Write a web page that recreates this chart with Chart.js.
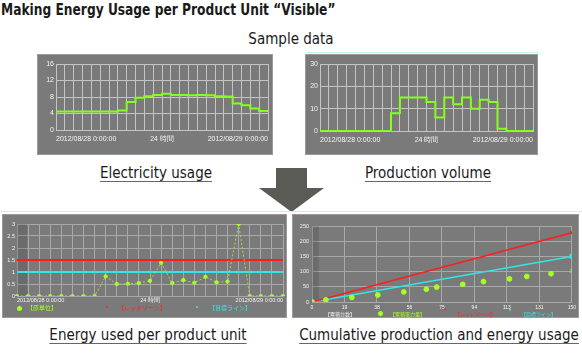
<!DOCTYPE html>
<html>
<head>
<meta charset="utf-8">
<script src="https://cdn.jsdelivr.net/npm/chart.js@4.4.0/dist/chart.umd.min.js"></script>
<style>
  body { margin: 0; width: 582px; height: 359px; background: #fff; position: relative; overflow: hidden;
         font-family: "DejaVu Sans Condensed", "DejaVu Sans", sans-serif; color: #1a1a1a; }
  .abs { position: absolute; white-space: nowrap; }
  .title { left: 1px; top: 0px; font-size: 16px; font-weight: bold; transform: scaleX(0.85); transform-origin: left top; }
  .sub { left: 291px; top: 30px; font-size: 15px; transform: translateX(-50%); }
  .cap { font-size: 15px; transform: translateX(-50%); text-decoration: underline; text-decoration-color: #666;
         text-underline-offset: 3px; }
  .panel { position: absolute; background: #7a7a7a; box-shadow: inset 0 0 0 1px #9a9a9a; }
  .panel canvas { position: absolute; left: 0; top: 0; }
  .mint { position: absolute; height: 1px; background: #c4f2df; }
  .lg { position: absolute; white-space: nowrap; font-family: "Noto Sans CJK JP", sans-serif; line-height: 1; }
  .dot { position: absolute; border-radius: 50%; }
</style>
</head>
<body>
<div class="abs title">Making Energy Usage per Product Unit “Visible”</div>
<div class="abs sub">Sample data</div>

<div class="mint" style="left:306px; top:52px; width:232px;"></div>
<div class="panel" style="left:37px; top:54px; width:236px; height:101px;"><canvas id="elec" width="236" height="101"></canvas></div>
<div class="panel" style="left:305px; top:54px; width:233px; height:101px;"><canvas id="prod" width="233" height="101"></canvas></div>

<div class="abs cap" style="left:156px; top:164px;">Electricity usage</div>
<div class="abs cap" style="left:428px; top:164px;">Production volume</div>

<svg class="abs" style="left:258px; top:168px;" width="68" height="45">
  <polygon points="18,0 49,0 49,20 66,20 33.5,44 1,20 18,20" fill="#5b5b56"/>
</svg>

<div class="mint" style="left:0; top:211px; width:582px;"></div>
<div class="panel" style="left:2px; top:214px; width:285px; height:104px;"><canvas id="unit" width="285" height="104"></canvas></div>
<div class="panel" style="left:292px; top:214px; width:287px; height:104px;"><canvas id="cum" width="287" height="104"></canvas></div>

<!-- legends of the two lower charts -->
<div class="dot" style="left:17px; top:306px; width:5px; height:5px; background:#a4ff24;"></div>
<div class="lg" style="left:27px; top:305px; font-size:6px; color:#a4ff24;">【原単位】</div>
<div class="dot" style="left:106px; top:306px; width:2px; height:2px; background:#ff2020;"></div>
<div class="lg" style="left:118px; top:305px; font-size:6px; color:#ff2020;">【レッドゾーン】</div>
<div class="dot" style="left:196px; top:306px; width:2px; height:2px; background:#33e6e6;"></div>
<div class="lg" style="left:209px; top:305px; font-size:6px; color:#33e6e6;">【目標ライン】</div>

<div class="lg" style="left:325px; top:311px; font-size:5px; color:#f0f0f0;">【累積台数】</div>
<div class="dot" style="left:378px; top:311px; width:5px; height:5px; background:#a4ff24;"></div>
<div class="lg" style="left:390px; top:311px; font-size:5px; color:#a4ff24;">【累積電力量】</div>
<div class="dot" style="left:444px; top:308px; width:2px; height:2px; background:#ff2020;"></div>
<div class="lg" style="left:455px; top:311px; font-size:5px; color:#ff2020;">【レッドゾーン】</div>
<div class="dot" style="left:509px; top:309px; width:2px; height:2px; background:#33e6e6;"></div>
<div class="lg" style="left:521px; top:311px; font-size:5px; color:#33e6e6;">【目標ライン】</div>

<div class="abs cap" style="left:148px; top:326px;">Energy used per product unit</div>
<div class="abs cap" style="left:439px; top:326px;">Cumulative production and energy usage</div>

<script>
// hourly slots over one day
const hourLabels = ['0','1','2','3','4','5','6','7','8','9','10','11','12',
                    '13','14','15','16','17','18','19','20','21','22','23','24'];
const timeTickIdx = [0, 12, 24];
const timeTickText = ['2012/08/28 0:00:00', '24 時間', '2012/08/29 0:00:00'];

// electricity usage per hour (last value repeats to close the final step)
const elecUsage = [4.5, 4.5, 4.5, 4.5, 4.5, 4.5, 4.5, 4.7, 6.8, 7.8, 8.2, 8.5, 8.8,
                   8.5, 8.5, 8.4, 8.5, 8.4, 8.2, 8.1, 6.4, 6.0, 5.2, 4.6, 4.6];
const elecYTicks = [0, 4, 6, 8, 10, 12, 16];

// production volume per hour
const prodVolume = [0, 0, 0, 0, 0, 0, 0, 0, 8, 15, 15, 15, 13,
                    6, 15, 12, 15, 10, 14, 13, 1, 0, 0, 0, 0];
const prodYTicks = [0, 10, 15, 20, 30];

// energy used per product unit
const energyPerUnit = [0, 0, 0, 0, 0, 0, 0, 0, 0.82, 0.5, 0.51, 0.54, 0.63,
                       1.38, 0.54, 0.66, 0.55, 0.8, 0.57, 0.6, 3.0, 0, 0, 0, 0];
const redZoneUnit = 1.5;
const targetUnit = 1.0;

// cumulative production vs cumulative energy
const cumUnits  = [0, 8, 23, 38, 53, 66, 72, 87, 99, 114, 124, 138, 150];
const cumEnergy = [0, 7, 15, 23, 33, 42, 49, 58, 67, 76, 84, 93, 102];
const lineX = [0, 150];
const redZoneCum = [0, 228];
const targetCum = [0, 150];
const cumTickText = ['0', '19', '38', '56', '75', '94', '113', '131', '150'];

Chart.defaults.font.family = '"Liberation Sans", Arial, sans-serif';
Chart.defaults.color = '#f4f4f4';
Chart.defaults.animation = false;
Chart.defaults.plugins.legend.display = false;
Chart.defaults.plugins.tooltip.enabled = false;

const GREEN = '#86ff1e';
const RED = '#ff1c1c';
const CYAN = '#33e6e6';

// darker strip at the start of the plot area
const shadeStart = {
  id: 'shadeStart',
  beforeDatasetsDraw(chart, args, opts) {
    if (opts.to == null) return;
    const {ctx, chartArea} = chart;
    const x1 = chart.scales.x.getPixelForValue(opts.to);
    ctx.save();
    ctx.fillStyle = 'rgba(0,0,0,0.12)';
    ctx.fillRect(chartArea.left, chartArea.top, x1 - chartArea.left, chartArea.bottom - chartArea.top);
    ctx.restore();
  }
};

function timeAxis(size, pad, height, grid) {
  return {
    grid: { color: grid, drawTicks: false },
    border: { color: grid },
    ticks: {
      autoSkip: false, maxRotation: 0, align: 'inner', padding: pad, font: { size },
      callback: (v, i) => {
        const k = timeTickIdx.indexOf(i);
        return k < 0 ? '' : timeTickText[k];
      }
    },
    afterFit: s => { s.height = height; }
  };
}

function valueAxis(max, step, shown, width, size, grid) {
  return {
    min: 0, max,
    grid: { color: grid, drawTicks: false },
    border: { color: grid },
    ticks: { stepSize: step, padding: 2, font: { size },
             callback: v => (shown.includes(v) ? String(v) : '') },
    afterFit: s => { s.width = width; }
  };
}

new Chart(document.getElementById('elec'), {
  type: 'line',
  data: {
    labels: hourLabels,
    datasets: [{ data: elecUsage, stepped: true, borderColor: GREEN, borderWidth: 2, pointRadius: 0 }]
  },
  options: {
    responsive: false,
    layout: { padding: { top: 10, right: 3, left: 0, bottom: 0 } },
    scales: {
      x: timeAxis(7, 5, 25, '#c4c4c4'),
      y: valueAxis(16, 2, elecYTicks, 19, 7, '#c4c4c4')
    }
  }
});

new Chart(document.getElementById('prod'), {
  type: 'line',
  data: {
    labels: hourLabels,
    datasets: [{ data: prodVolume, stepped: true, borderColor: GREEN, borderWidth: 2, pointRadius: 0 }]
  },
  options: {
    responsive: false,
    layout: { padding: { top: 10, right: 3, left: 0, bottom: 0 } },
    scales: {
      x: timeAxis(7, 5, 24, '#c4c4c4'),
      y: valueAxis(30, 5, prodYTicks, 15, 7, '#c4c4c4')
    }
  }
});

new Chart(document.getElementById('unit'), {
  type: 'line',
  data: {
    labels: hourLabels,
    datasets: [
      { data: energyPerUnit, borderColor: '#a8d84a', borderWidth: 1, borderDash: [2, 2],
        pointRadius: 2.1, pointBackgroundColor: '#a4ff24', pointBorderWidth: 0 },
      { data: [{ x: hourLabels[0], y: redZoneUnit }, { x: hourLabels[24], y: redZoneUnit }],
        borderColor: RED, borderWidth: 2, pointRadius: 0 },
      { data: [{ x: hourLabels[0], y: targetUnit }, { x: hourLabels[24], y: targetUnit }],
        borderColor: CYAN, borderWidth: 2, pointRadius: 0 }
    ]
  },
  options: {
    responsive: false,
    layout: { padding: { top: 10, right: 1, left: 0, bottom: 0 } },
    plugins: { shadeStart: { to: 0.9 } },
    scales: {
      x: timeAxis(5.5, 1, 22, '#a8a8a8'),
      y: valueAxis(3, 0.5, [0, 0.5, 1, 1.5, 2, 2.5, 3], 15, 5.5, '#a8a8a8')
    }
  },
  plugins: [shadeStart]
});

new Chart(document.getElementById('cum'), {
  type: 'line',
  data: {
    datasets: [
      { data: cumUnits.map((x, i) => ({ x, y: cumEnergy[i] })), showLine: false,
        pointRadius: 2.4, pointBackgroundColor: '#a4ff24', pointBorderColor: '#a4ff24', pointBorderWidth: 1,
        pointStyle: cumUnits.map((x, i) => (i === cumUnits.length - 1 ? 'crossRot' : 'circle')) },
      { data: lineX.map((x, i) => ({ x, y: redZoneCum[i] })), borderColor: RED, borderWidth: 1.5,
        pointRadius: 2.2, pointStyle: 'crossRot', pointBorderColor: RED },
      { data: lineX.map((x, i) => ({ x, y: targetCum[i] })), borderColor: CYAN, borderWidth: 1.5,
        pointRadius: 2.2, pointStyle: 'rect', pointBackgroundColor: CYAN, pointBorderColor: CYAN }
    ]
  },
  options: {
    responsive: false,
    layout: { padding: { top: 12, right: 6, left: 0, bottom: 0 } },
    plugins: { shadeStart: { to: 4 } },
    scales: {
      x: {
        type: 'linear', min: 0, max: 150,
        grid: { color: '#a8a8a8', drawTicks: false },
        border: { color: '#a8a8a8' },
        afterBuildTicks: s => {
          s.ticks = cumTickText.map((t, i) => ({ value: i * 150 / (cumTickText.length - 1) }));
        },
        ticks: { autoSkip: false, maxRotation: 0, padding: 3, font: { size: 5 },
                 callback: (v, i) => cumTickText[i] },
        afterFit: s => { s.height = 16; }
      },
      y: {
        min: 0, max: 250,
        grid: { color: '#a8a8a8', drawTicks: false },
        border: { color: '#a8a8a8' },
        ticks: { stepSize: 50, padding: 3, font: { size: 5.5 } },
        afterFit: s => { s.width = 20; }
      }
    }
  },
  plugins: [shadeStart]
});
</script>
</body>
</html>
